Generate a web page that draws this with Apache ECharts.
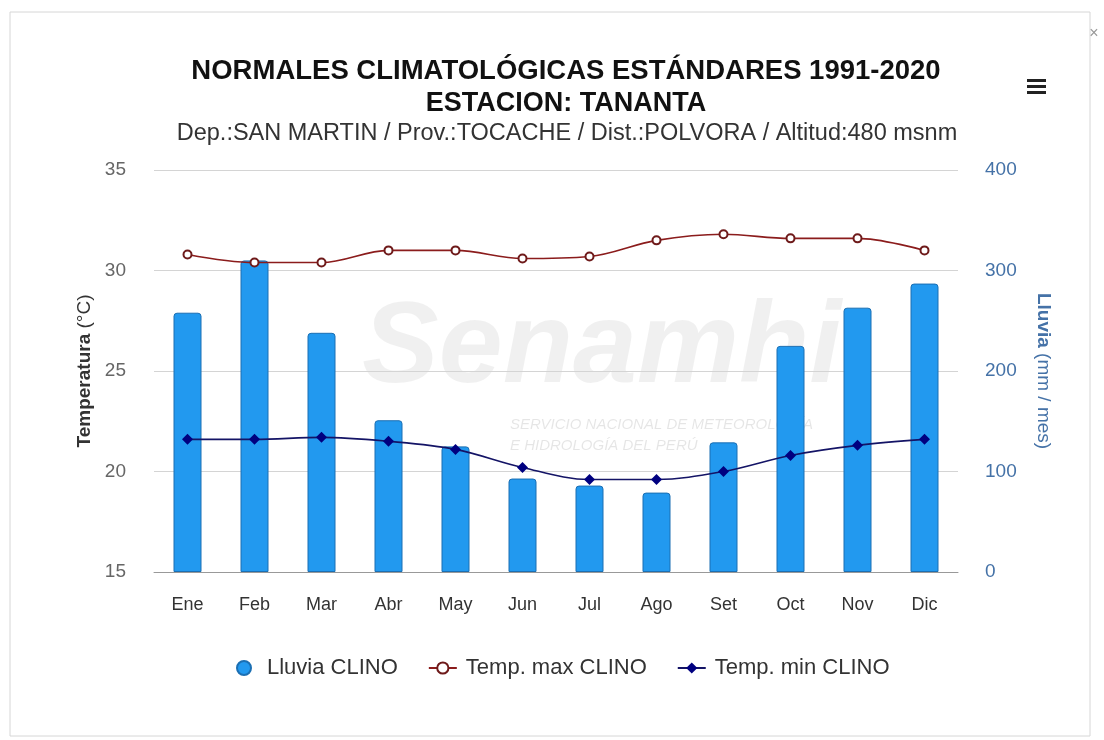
<!DOCTYPE html>
<html>
<head>
<meta charset="utf-8">
<title>Normales climatológicas - Tananta</title>
<script src="https://cdn.jsdelivr.net/npm/echarts@6/dist/echarts.min.js"></script>
<style>
  html, body { margin: 0; padding: 0; background: #fff; }
  #main { width: 1104px; height: 740px; }
</style>
</head>
<body>
<div id="main"></div>
<script>
// datos
var meses = ['Ene', 'Feb', 'Mar', 'Abr', 'May', 'Jun', 'Jul', 'Ago', 'Set', 'Oct', 'Nov', 'Dic'];
var lluvia = [258, 310, 238, 151, 125, 93, 86, 79, 129, 225, 263, 287];   // mm / mes
var tempMax = [30.8, 30.4, 30.4, 31.0, 31.0, 30.6, 30.7, 31.5, 31.8, 31.6, 31.6, 31.0];
var tempMin = [21.6, 21.6, 21.7, 21.5, 21.1, 20.2, 19.6, 19.6, 20.0, 20.8, 21.3, 21.6];

// ejes
var tempEje = { min: 15, max: 35, paso: 5 };
var lluviaEje = { min: 0, max: 400, paso: 100 };

var fuente = '"Liberation Sans", Arial, sans-serif';

var chart = echarts.init(document.getElementById('main'), null, { renderer: 'canvas' });

var option = {
  backgroundColor: '#fff',
  textStyle: { fontFamily: fuente },
  graphic: [
    { // marco del cuadro
      type: 'rect', z: -20, silent: true,
      shape: { x: 10, y: 12, width: 1080, height: 724 },
      style: { fill: '#fff', stroke: '#d6d6d6', lineWidth: 1 }
    },
    { type: 'text', x: 1094, y: 34, silent: true,
      style: { text: '×', fill: '#999', font: '16px ' + fuente, align: 'center', verticalAlign: 'middle' } },
    // menu (hamburguesa)
    { type: 'rect', shape: { x: 1027, y: 79, width: 19, height: 3 }, style: { fill: '#222' } },
    { type: 'rect', shape: { x: 1027, y: 85, width: 19, height: 3 }, style: { fill: '#222' } },
    { type: 'rect', shape: { x: 1027, y: 91, width: 19, height: 3 }, style: { fill: '#222' } },
    // titulos
    { type: 'text', x: 566, y: 71, silent: true,
      style: { text: 'NORMALES CLIMATOLÓGICAS ESTÁNDARES 1991-2020', fill: '#111',
        font: 'bold 27.5px ' + fuente, align: 'center', verticalAlign: 'middle' } },
    { type: 'text', x: 566, y: 104, silent: true,
      style: { text: 'ESTACION: TANANTA', fill: '#111',
        font: 'bold 27px ' + fuente, align: 'center', verticalAlign: 'middle' } },
    { type: 'text', x: 567, y: 134, silent: true,
      style: { text: 'Dep.:SAN MARTIN / Prov.:TOCACHE / Dist.:POLVORA / Altitud:480 msnm', fill: '#333',
        font: '23.5px ' + fuente, align: 'center', verticalAlign: 'middle' } },
    // marca de agua
    { type: 'text', x: 362, y: 350, z: -10, silent: true,
      style: { text: 'Senamhi', fill: 'rgba(0,0,0,0.06)',
        font: 'italic bold 115px ' + fuente, verticalAlign: 'middle' } },
    { type: 'text', x: 510, y: 425, z: -10, silent: true,
      style: { text: 'SERVICIO NACIONAL DE METEOROLOGÍA', fill: 'rgba(0,0,0,0.1)',
        font: 'italic 15px ' + fuente, verticalAlign: 'middle' } },
    { type: 'text', x: 510, y: 446, z: -10, silent: true,
      style: { text: 'E HIDROLOGÍA DEL PERÚ', fill: 'rgba(0,0,0,0.1)',
        font: 'italic 15px ' + fuente, verticalAlign: 'middle' } }
  ],
  legend: {  // leyenda abajo
    left: 231,
    top: 652,
    itemWidth: 28,
    itemHeight: 14,
    itemGap: 30,
    textStyle: { fontSize: 22, color: '#333', fontFamily: fuente, padding: [0, 0, 0, 4] },
    data: [
      { name: 'Lluvia CLINO', icon: 'circle' },
      'Temp. max CLINO',
      'Temp. min CLINO'
    ]
  },
  grid: {
    left: 154,
    right: 146,
    top: 170,
    bottom: 168
  },
  xAxis: {
    type: 'category',
    data: meses,
    axisTick: { show: false },
    axisLine: { lineStyle: { color: '#999' } },
    axisLabel: { color: '#333', fontSize: 18, margin: 24, fontFamily: fuente },
    splitLine: { show: false }
  },
  yAxis: [
    {
      type: 'value',
      position: 'left',
      min: tempEje.min,
      max: tempEje.max,
      interval: tempEje.paso,
      name: '{b|Temperatura} (°C)',
      nameLocation: 'middle',
      nameGap: 60,
      nameTextStyle: {
        fontSize: 19, color: '#333', fontFamily: fuente,
        rich: { b: { fontSize: 19, fontWeight: 'bold', color: '#333', fontFamily: fuente } }
      },
      axisLine: { show: false },
      axisTick: { show: false },
      axisLabel: { color: '#666', fontSize: 19, margin: 28, fontFamily: fuente },
      splitLine: { lineStyle: { color: '#d4d4d4', width: 1 } }
    },
    {
      type: 'value',
      position: 'right',
      min: lluviaEje.min,
      max: lluviaEje.max,
      interval: lluviaEje.paso,
      name: '{b|Lluvia} (mm / mes)',
      nameLocation: 'middle',
      nameRotate: -90,
      nameGap: 76,
      nameTextStyle: {
        fontSize: 19, color: '#4572a7', fontFamily: fuente,
        rich: { b: { fontSize: 19, fontWeight: 'bold', color: '#4572a7', fontFamily: fuente } }
      },
      axisLine: { show: false },
      axisTick: { show: false },
      axisLabel: { color: '#4572a7', fontSize: 19, margin: 27, fontFamily: fuente },
      splitLine: { show: false }
    }
  ],
  series: [
    {
      name: 'Lluvia CLINO',
      type: 'bar',
      yAxisIndex: 1,
      data: lluvia,
      barWidth: 28,
      itemStyle: {
        color: '#2299ef',
        borderColor: '#1b6fb3',
        borderWidth: 1,
        borderRadius: [3, 3, 0, 0]
      },
      z: 2
    },
    {
      name: 'Temp. max CLINO',
      type: 'line',
      yAxisIndex: 0,
      data: tempMax,
      smooth: 0.35,
      symbol: 'circle',
      symbolSize: 8,
      lineStyle: { color: '#8b1c1c', width: 1.6 },
      itemStyle: { color: '#fff', borderColor: '#6e1a1a', borderWidth: 2 },
      z: 4
    },
    {
      name: 'Temp. min CLINO',
      type: 'line',
      yAxisIndex: 0,
      data: tempMin,
      smooth: 0.35,
      symbol: 'diamond',
      symbolSize: 11,
      lineStyle: { color: '#141466', width: 1.6 },
      itemStyle: { color: '#000080' },
      z: 4
    }
  ]
};

chart.setOption(option);
</script>
</body>
</html>
